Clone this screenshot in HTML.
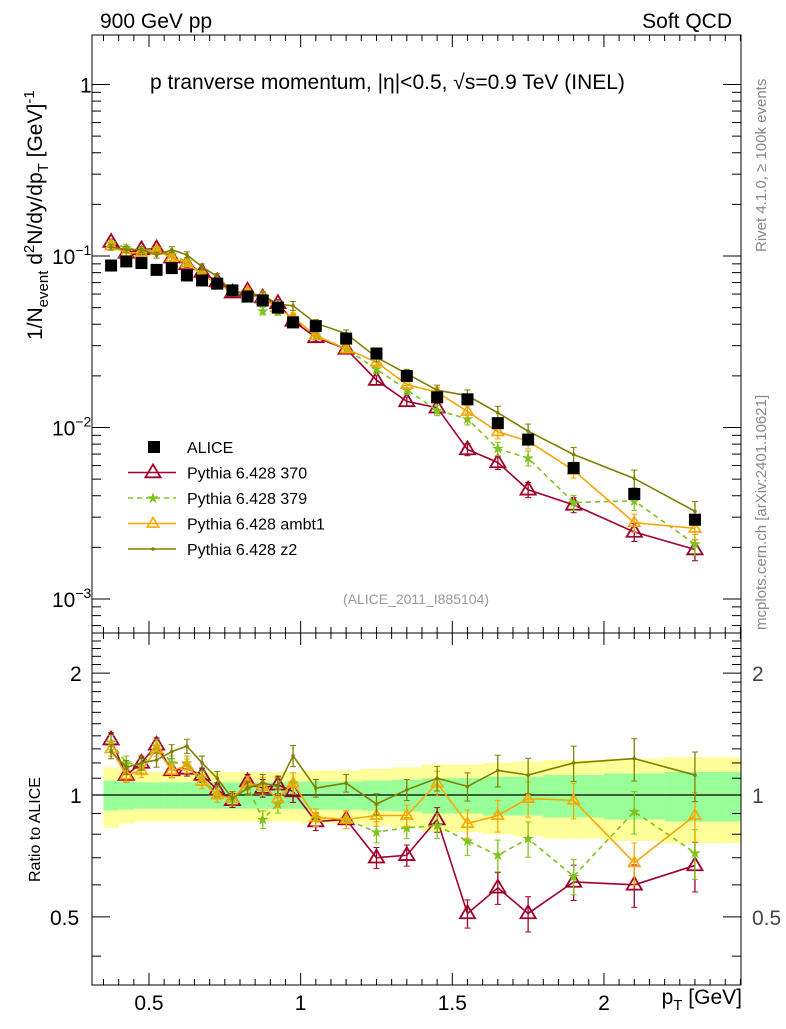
<!DOCTYPE html>
<html><head><meta charset="utf-8"><style>
body{margin:0;background:#fff;font-family:"Liberation Sans",sans-serif}
svg text{font-family:"Liberation Sans",sans-serif}
</style></head><body>
<svg id="c" width="786" height="1024" xmlns="http://www.w3.org/2000/svg"></svg>
<script>
const pT=[0.375,0.425,0.475,0.525,0.575,0.625,0.675,0.725,0.775,0.825,0.875,0.925,0.975,1.05,1.15,1.25,1.35,1.45,1.55,1.65,1.75,1.9,2.1,2.3];
const binLo=[0.35,0.4,0.45,0.5,0.55,0.6,0.65,0.7,0.75,0.8,0.85,0.9,0.95,1.0,1.1,1.2,1.3,1.4,1.5,1.6,1.7,1.8,2.0,2.2];
const binHi=[0.4,0.45,0.5,0.55,0.6,0.65,0.7,0.75,0.8,0.85,0.9,0.95,1.0,1.1,1.2,1.3,1.4,1.5,1.6,1.7,1.8,2.0,2.2,2.45];
const alice=[0.088,0.093,0.091,0.083,0.085,0.077,0.072,0.069,0.063,0.058,0.055,0.050,0.041,0.039,0.033,0.027,0.020,0.015,0.0146,0.0106,0.0085,0.0058,0.0041,0.0029];
const statBand=[0.085,0.08,0.075,0.075,0.075,0.075,0.075,0.075,0.075,0.075,0.075,0.075,0.075,0.08,0.08,0.085,0.09,0.1,0.1,0.11,0.11,0.12,0.13,0.14];
const totBand=[0.17,0.15,0.14,0.14,0.14,0.14,0.14,0.14,0.14,0.14,0.14,0.14,0.14,0.15,0.15,0.16,0.17,0.19,0.19,0.2,0.21,0.22,0.23,0.24];
const r370=[1.37,1.12,1.2,1.33,1.15,1.16,1.12,1.03,0.97,1.08,1.04,1.06,1.02,0.86,0.87,0.70,0.71,0.87,0.51,0.59,0.51,0.61,0.60,0.67];
const r379=[1.35,1.2,1.18,1.32,1.2,1.2,1.1,1.0,0.98,1.05,0.87,0.95,1.07,0.88,0.87,0.81,0.83,0.84,0.77,0.71,0.78,0.63,0.91,0.72];
const rambt1=[1.3,1.12,1.15,1.3,1.15,1.18,1.08,1.0,0.98,1.07,1.05,0.98,1.07,0.88,0.87,0.89,0.89,1.07,0.85,0.89,0.98,0.97,0.68,0.89];
const rz2=[1.28,1.17,1.2,1.22,1.28,1.32,1.2,1.1,0.98,1.04,1.07,1.05,1.25,1.04,1.07,0.95,1.03,1.1,1.05,1.15,1.12,1.2,1.23,1.12];
const relErr=[0.04,0.04,0.04,0.04,0.04,0.04,0.04,0.04,0.04,0.04,0.05,0.05,0.06,0.05,0.05,0.06,0.06,0.07,0.08,0.09,0.1,0.1,0.12,0.14];
const xTicks=[0.5,1,1.5,2];
const xTickLabels=["0.5","1","1.5","2"];

const S=document.getElementById('c'),NS="http://www.w3.org/2000/svg";
function el(t,a,p){const e=document.createElementNS(NS,t);for(const k in a)e.setAttribute(k,a[k]);(p||S).appendChild(e);return e;}
const L=92,R=741,T=35,MB=633,RB=985;
const X=p=>149+(p-0.5)*303.3;
const Y=v=>256-(Math.log10(v)+1)*171.5;
const YR=r=>795-Math.log10(r)*405;

const gb=el('g',{});
pT.forEach((p,i)=>{
 const x0=X(binLo[i]),x1=Math.min(X(binHi[i]),R);
 const y=el('rect',{x:x0,y:YR(1+totBand[i]),width:x1-x0+0.5,height:YR(1-totBand[i])-YR(1+totBand[i]),fill:'#ffff99'},gb);
 
 const g=el('rect',{x:x0,y:YR(1+statBand[i]),width:x1-x0+0.5,height:YR(1-statBand[i])-YR(1+statBand[i]),fill:'#99ff99'},gb);
 
});
el('line',{x1:L,x2:R,y1:YR(1),y2:YR(1),stroke:'#000','stroke-width':1.2});

el('rect',{x:L,y:T,width:R-L,height:MB-T,fill:'none',stroke:'#000','stroke-width':1});
el('rect',{x:L,y:MB,width:R-L,height:RB-MB,fill:'none',stroke:'#000','stroke-width':1});

for(let v=0.35;v<2.46;v+=0.05){const x=X(v),maj=Math.abs(v*2-Math.round(v*2))<1e-6;const len=maj?12:6;
 [[MB,-1],[T,1],[RB,-1],[MB,1]].forEach(([y0,d])=>el('line',{x1:x,x2:x,y1:y0,y2:y0+d*len,stroke:'#000'}));}
xTicks.forEach((v,i)=>{const t=el('text',{x:X(v),y:1010,'font-size':21,'text-anchor':'middle'});t.textContent=xTickLabels[i];
 });

for(let d=-4;d<=0;d++)for(let m=1;m<10;m++){const v=m*Math.pow(10,d);const y=Y(v);if(y<T||y>MB)continue;const len=m==1?18:9;
 el('line',{x1:L,x2:L+len,y1:y,y2:y,stroke:'#000'});el('line',{x1:R,x2:R-len,y1:y,y2:y,stroke:'#000'});}
[[1,'1'],[0.1,'10'],[0.01,'10'],[0.001,'10']].forEach(([v,s],i)=>{const t=el('text',{x:i==0?80:52,y:Y(v)+8,'font-size':21});
 
 if(i==0){t.textContent='1';}else{t.textContent='10';const sp=el('tspan',{dy:-9,'font-size':14},t);sp.textContent=i==1?'−1':i==2?'−2':'−3';}});
for(let r=0.4;r<=2.5;r+=0.1){const y=YR(r);if(y<MB||y>RB)continue;const mj=[0.5,1,2].some(q=>Math.abs(q-r)<1e-6);const len=mj?18:9;
 el('line',{x1:L,x2:L+len,y1:y,y2:y,stroke:'#000'});el('line',{x1:R,x2:R-len,y1:y,y2:y,stroke:'#000'});}
[[2,'2'],[1,'1'],[0.5,'0.5']].forEach(([r,s])=>{['l','r'].forEach(k=>{
 const t=el('text',{x:k=='r'?752:(r==0.5?50:70),y:YR(r)+8,'font-size':21,fill:k=='r'?'#444':'#000'});t.textContent=s;
 });});

function series(ratio,col,dash,marker,name){
 const g=el('g',{});
 const mainPts=pT.map((p,i)=>[X(p),Y(alice[i]*ratio[i])]),ratPts=pT.map((p,i)=>[X(p),YR(ratio[i])]);
 [mainPts,ratPts].forEach((pts,k)=>{
  el('polyline',{points:pts.map(q=>q.join(',')).join(' '),fill:'none',stroke:col,'stroke-width':1.6,'stroke-dasharray':dash},g);
  pts.forEach((q,i)=>{const e=relErr[i];const v=k==0?alice[i]*ratio[i]:ratio[i];const f=k==0?Y:YR;
   const y1=f(v*(1+e)),y2=f(v*(1-e));
   el('line',{x1:q[0],x2:q[0],y1,y2,stroke:col,'stroke-width':1.3},g);
   el('line',{x1:q[0]-3,x2:q[0]+3,y1,y2:y1,stroke:col},g);el('line',{x1:q[0]-3,x2:q[0]+3,y1:y2,y2,stroke:col},g);
   marker(q[0],q[1],g);});
 });
}
function triM(col,s,w){return (x,y,g)=>{const m=el('polygon',{points:`${x},${y-s} ${x-s*0.95},${y+s*0.6} ${x+s*0.95},${y+s*0.6}`,fill:'none',stroke:col,'stroke-width':w},g);};}
function starM(col){return (x,y,g)=>{const t=el('text',{x,y:y+5,'font-size':15,fill:col,'text-anchor':'middle'},g);t.textContent='★';};}
function dotM(col){return (x,y,g)=>{el('circle',{cx:x,cy:y,r:1.8,fill:col},g);};}
series(r370,'#a0002a','none',triM('#a0002a',8,1.8),'series-pythia-370');
series(r379,'#7fc31c','5,4',starM('#7fc31c'),'series-pythia-379');
series(rambt1,'#f7a600','none',triM('#f7a600',6,1.6),'series-pythia-ambt1');
series(rz2,'#7f7f00','none',dotM('#7f7f00'),'series-pythia-z2');
const ga=el('g',{});
pT.forEach((p,i)=>{const m=el('rect',{x:X(p)-6,y:Y(alice[i])-6,width:12,height:12,fill:'#000'},ga);
 });

const lg=el('g',{});
const leg=[['ALICE',null],['Pythia 6.428 370','#a0002a'],['Pythia 6.428 379','#7fc31c'],['Pythia 6.428 ambt1','#f7a600'],['Pythia 6.428 z2','#7f7f00']];
leg.forEach(([s,c],i)=>{const y=447+i*25.5;
 if(!c)el('rect',{x:148,y:y-6,width:12,height:12,fill:'#000'},lg);
 else{el('line',{x1:128,x2:176,y1:y,y2:y,stroke:c,'stroke-width':1.6,'stroke-dasharray':i==2?'5,4':'none'},lg);
  if(i==1)triM(c,8,1.8)(153,y,lg);if(i==2)starM(c)(153,y,lg);if(i==3)triM(c,6,1.6)(153,y,lg);if(i==4)dotM(c)(153,y,lg);}
 const t=el('text',{x:187,y:y+6,'font-size':16},lg);t.textContent=s;
 });

function txt(s,a,name){const t=el('text',a);t.textContent=s;return t;}
txt('900 GeV pp',{x:100,y:28,'font-size':21},'header-left');
txt('Soft QCD',{x:732,y:28,'font-size':21,'text-anchor':'end'},'header-right');
const tt=txt('',{x:150,y:89,'font-size':21},'plot-title');
tt.innerHTML='p tranverse momentum, |η|&lt;0.5, √s=0.9 TeV (INEL)';
txt('(ALICE_2011_I885104)',{x:416,y:604,'font-size':14,fill:'#999','text-anchor':'middle'},'analysis-id');
txt('Rivet 4.1.0, ≥ 100k events',{x:0,y:0,'font-size':15,fill:'#888',transform:'translate(766,252) rotate(-90)'},'rivet-label');
txt('mcplots.cern.ch [arXiv:2401.10621]',{x:0,y:0,'font-size':15,fill:'#888',transform:'translate(766,630) rotate(-90)'},'mcplots-label');
const yt=txt('',{x:0,y:0,'font-size':21,transform:'translate(42,340) rotate(-90)'},'y-axis-title');
yt.innerHTML='1/N<tspan dy="6" font-size="15">event</tspan><tspan dy="-6"> d</tspan><tspan dy="-8" font-size="15">2</tspan><tspan dy="8">N/dy/dp</tspan><tspan dy="6" font-size="15">T</tspan><tspan dy="-6"> [GeV]</tspan><tspan dy="-8" font-size="15">-1</tspan>';
txt('Ratio to ALICE',{x:0,y:0,'font-size':16,transform:'translate(40,882) rotate(-90)'},'ratio-axis-title');
const xt=txt('',{x:742,y:1004,'font-size':21,'text-anchor':'end'},'x-axis-title');
xt.innerHTML='p<tspan dy="6" font-size="15">T</tspan><tspan dy="-6"> [GeV]</tspan>';
</script>
</body></html>
